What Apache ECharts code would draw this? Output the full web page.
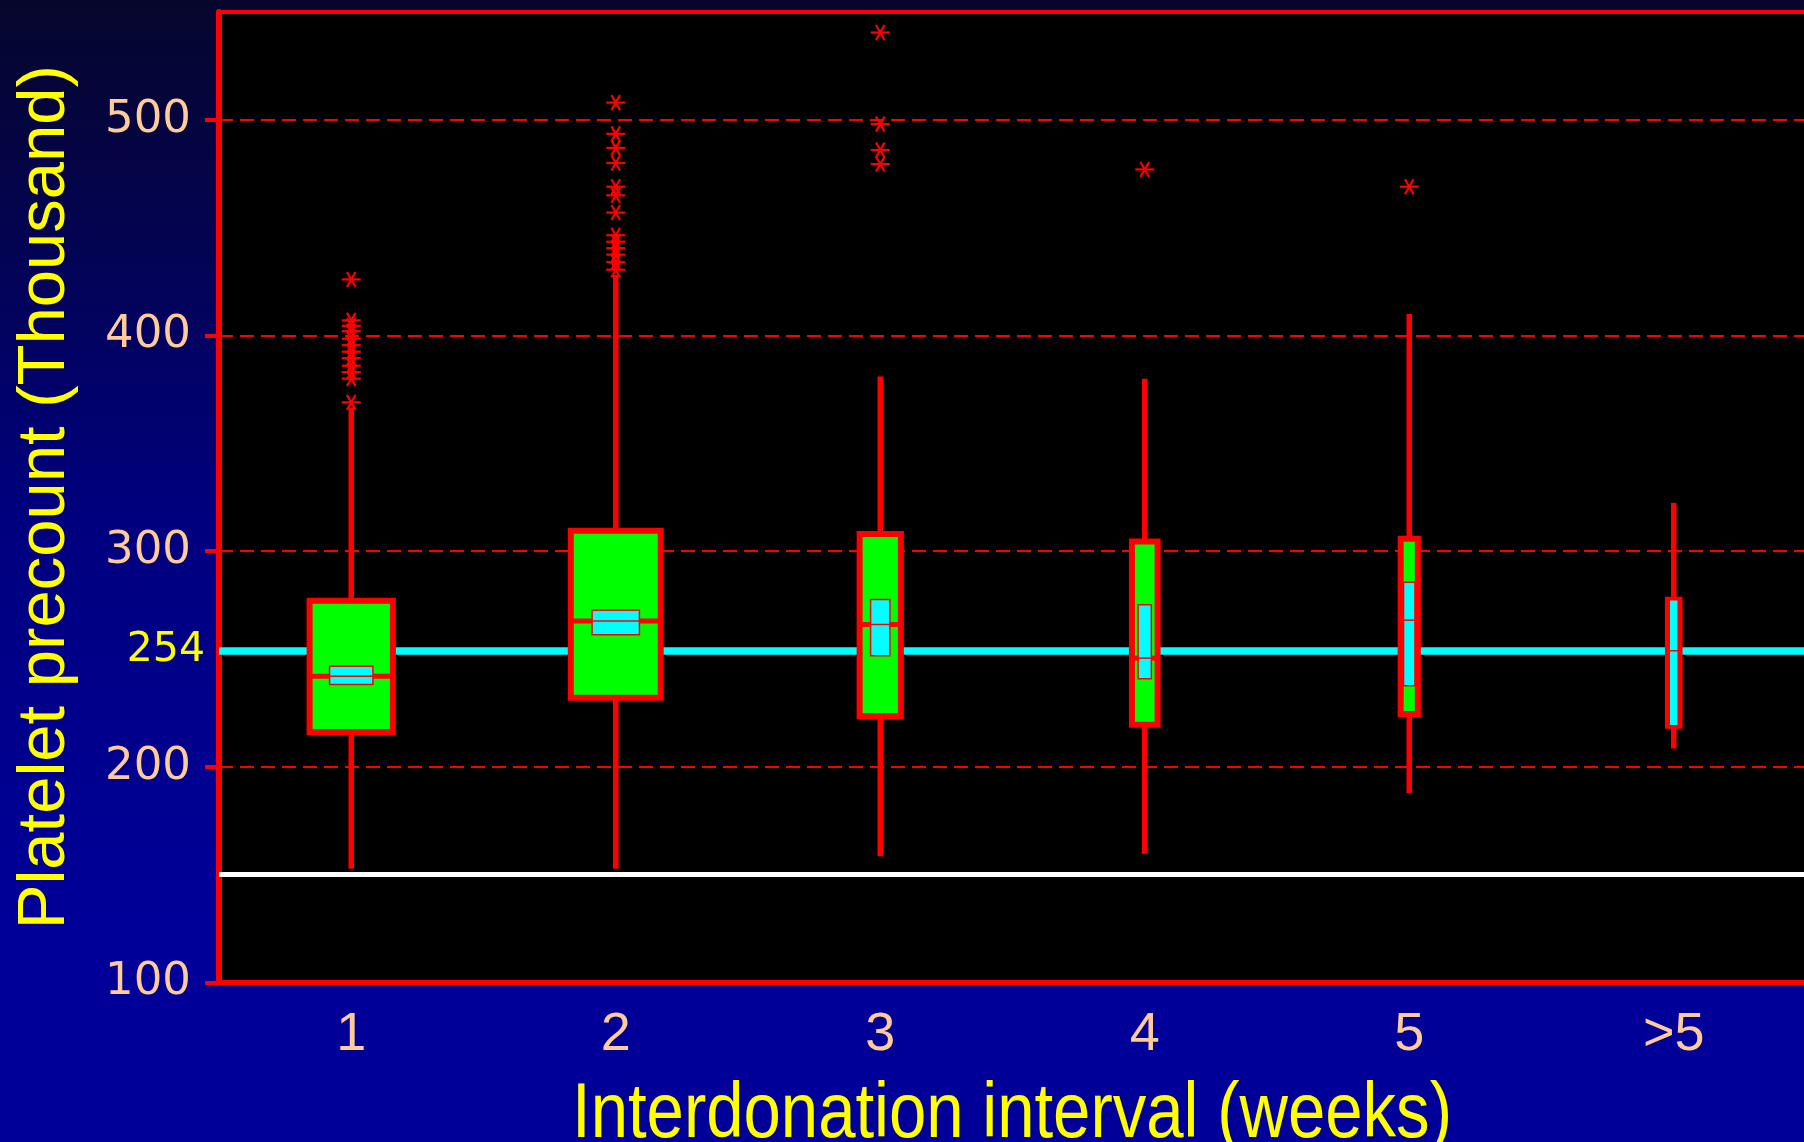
<!DOCTYPE html>
<html>
<head>
<meta charset="utf-8">
<script src="https://cdn.jsdelivr.net/npm/echarts@6/dist/echarts.min.js"></script>
<style>
html,body{margin:0;padding:0;background:#000099;}
#c{width:1804px;height:1142px;}
</style>
</head>
<body>
<div id="c"></div>
<script>
// ---------------- data ----------------
const categories  = ['1', '2', '3', '4', '5', '>5'];
const whiskerLow  = [152.8, 152.8, 158.5, 159.7, 187.8, 208.5];
const q1          = [216.0, 232.0, 223.5, 219.5, 224.5, 219.0];
const median      = [242.0, 267.6, 266.0, 250.4, 268.0, 253.8];
const q3          = [277.0, 309.5, 308.0, 304.5, 305.8, 277.5];
const whiskerHigh = [366.5, 428.0, 381.0, 380.0, 410.0, 322.4];
const notchLow    = [238.2, 261.2, 251.5, 240.8, 237.6, 219.0];
const notchHigh   = [246.6, 272.6, 277.6, 275.2, 285.6, 277.5];

const outliers1 = [426, 407, 404.5, 402, 398.5, 395.5, 392.5, 389.5, 386, 383, 380, 369];
const outliers2 = [508, 493.5, 487, 480, 469, 465, 457, 446.5, 443.5, 440.5, 437.5, 434, 430.5];
const outliers3 = [540.5, 498, 486, 479.5];
const outliers4 = [477];
const outliers5 = [469];
const outliers6 = [];

const yTicks   = [100, 200, 300, 400, 500];
const refMean  = 254;
const refLow   = 150;
const xTitle   = 'Interdonation interval (weeks)';
const yTitle   = 'Platelet precount (Thousand)';

// ---------------- style ----------------
const RED = '#FF0000', GREEN = '#00FF00', CYAN = '#00FFFF';
const BOX_W   = [0.315, 0.340, 0.156, 0.097, 0.065, 0.044];
const NOTCH_W = [0.164, 0.179, 0.073, 0.050, 0.043, 0.034];

const boxData = categories.map((c, i) =>
  [i, whiskerLow[i], q1[i], median[i], q3[i], whiskerHigh[i], notchLow[i], notchHigh[i]]);
const outlierData = [];
[outliers1, outliers2, outliers3, outliers4, outliers5, outliers6].forEach((arr, i) =>
  arr.forEach(v => outlierData.push([i, v])));

function renderBox(params, api) {
  const i = api.value(0);
  const x = api.coord([i, api.value(3)])[0];
  const band = api.size([1, 0])[0];
  const y = k => api.coord([i, api.value(k)])[1];
  const yLow = y(1), yQ1 = y(2), yMed = y(3), yQ3 = y(4), yHigh = y(5), yNL = y(6), yNH = y(7);
  const bw = band * BOX_W[i], nw = band * NOTCH_W[i];
  return {
    type: 'group',
    children: [
      {type: 'line', shape: {x1: x, y1: yHigh, x2: x, y2: yQ3}, style: {stroke: RED, lineWidth: 5.5}},
      {type: 'line', shape: {x1: x, y1: yQ1, x2: x, y2: yLow}, style: {stroke: RED, lineWidth: 5.5}},
      {type: 'rect', shape: {x: x - bw / 2, y: yQ3, width: bw, height: yQ1 - yQ3},
        style: {fill: GREEN, stroke: RED, lineWidth: 6}},
      {type: 'line', shape: {x1: x - bw / 2, y1: yMed, x2: x + bw / 2, y2: yMed}, style: {stroke: RED, lineWidth: 5}},
      {type: 'rect', shape: {x: x - nw / 2, y: yNH, width: nw, height: yNL - yNH},
        style: {fill: CYAN, stroke: RED, lineWidth: 1.5}},
      {type: 'line', shape: {x1: x - nw / 2, y1: yMed, x2: x + nw / 2, y2: yMed}, style: {stroke: RED, lineWidth: 1.5}}
    ]
  };
}

function renderStar(params, api) {
  const p = api.coord([api.value(0), api.value(1)]);
  const r = 9.5, dx = 4.3, dy = 7.5;
  const st = {stroke: RED, lineWidth: 2.2};
  return {
    type: 'group',
    children: [
      {type: 'line', shape: {x1: p[0] - r, y1: p[1], x2: p[0] + r, y2: p[1]}, style: st},
      {type: 'line', shape: {x1: p[0] - dx, y1: p[1] - dy, x2: p[0] + dx, y2: p[1] + dy}, style: st},
      {type: 'line', shape: {x1: p[0] - dx, y1: p[1] + dy, x2: p[0] + dx, y2: p[1] - dy}, style: st}
    ]
  };
}

const chart = echarts.init(document.getElementById('c'), null, {renderer: 'canvas'});
chart.setOption({
  animation: false,
  backgroundColor: {
    type: 'linear', x: 0, y: 0, x2: 0, y2: 1,
    colorStops: [
      {offset: 0, color: '#06062c'},
      {offset: 0.45, color: '#00007e'},
      {offset: 0.8, color: '#000099'},
      {offset: 1, color: '#000099'}
    ]
  },
  grid: {
    left: 219, top: 12, right: -2, bottom: 159.5,
    outerBoundsMode: 'none',
    containLabel: false,
    show: true, backgroundColor: '#000000', borderColor: RED, borderWidth: 4
  },
  graphic: [{
    type: 'text',
    x: 1012, y: 1115,
    scaleX: 0.86,
    silent: true,
    style: {
      text: xTitle, fill: '#FFFF00',
      font: "78px 'Liberation Sans', Arial, sans-serif",
      align: 'center', verticalAlign: 'middle'
    }
  }],
  xAxis: {
    type: 'category',
    data: categories,
    boundaryGap: true,
    axisLine: {lineStyle: {color: RED, width: 5}},
    axisTick: {alignWithLabel: true, length: 14, lineStyle: {color: RED, width: 3.5}},
    axisLabel: {color: '#FFCC99', fontSize: 54, fontFamily: "'Liberation Sans', Arial, sans-serif", margin: 26},
    splitLine: {show: false}
  },
  yAxis: {
    type: 'value',
    min: 100, max: 550, interval: 100,
    axisLine: {show: true, lineStyle: {color: RED, width: 6}},
    axisTick: {show: true, length: 14, customValues: yTicks, lineStyle: {color: RED, width: 4}},
    axisLabel: {color: '#FFCC99', fontSize: 45, fontFamily: "'DejaVu Sans', sans-serif", margin: 28,
      customValues: yTicks},
    splitLine: {show: true, lineStyle: {color: RED, width: 2, type: [14, 7]}},
    name: yTitle,
    nameLocation: 'middle',
    nameRotate: 90,
    nameGap: 140,
    nameTextStyle: {color: '#FFFF00', fontSize: 67, fontFamily: "'Liberation Sans', Arial, sans-serif"}
  },
  series: [
    {
      type: 'custom',
      name: 'boxes',
      z: 3,
      renderItem: renderBox,
      encode: {x: 0, y: [1, 2, 3, 4, 5, 6, 7]},
      data: boxData,
      markLine: {
        z: 1,
        silent: true,
        symbol: 'none',
        animation: false,
        data: [
          {yAxis: refMean, lineStyle: {color: CYAN, width: 7.5, type: 'solid'},
            label: {show: true, position: 'start', formatter: String(refMean), color: '#FFFF00',
              fontSize: 41, fontFamily: "'DejaVu Sans', sans-serif", distance: 14}},
          {yAxis: refLow, lineStyle: {color: '#FFFFFF', width: 5, type: 'solid'}, label: {show: false}}
        ]
      }
    },
    {
      type: 'custom',
      name: 'outliers',
      z: 4,
      renderItem: renderStar,
      encode: {x: 0, y: 1},
      data: outlierData
    }
  ]
});
</script>
</body>
</html>
